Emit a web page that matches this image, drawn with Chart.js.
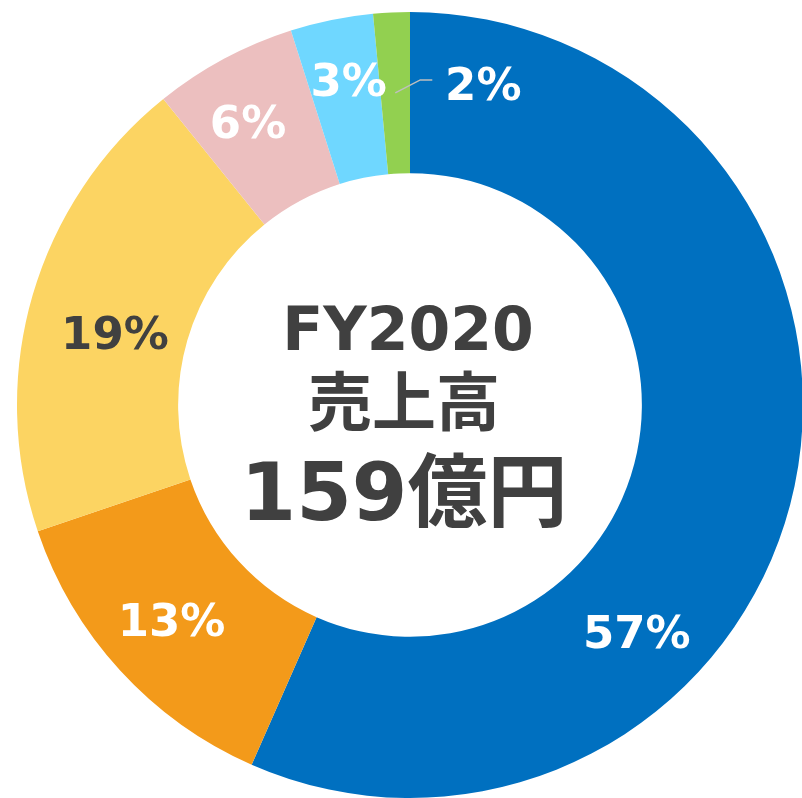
<!DOCTYPE html>
<html>
<head>
<meta charset="utf-8">
<script src="https://cdn.jsdelivr.net/npm/chart.js@4"></script>
<style>
  html, body { margin: 0; padding: 0; background: #fff; overflow: hidden; }
  #wrap { position: relative; width: 803px; height: 798px; }
</style>
</head>
<body>
<div id="wrap"><canvas id="myChart"></canvas></div>
<script>
// segment data (share of sales, %)
const segments = ['A', 'B', 'C', 'D', 'E', 'F'];
const shares = [56.6, 13.2, 19.4, 5.9, 3.4, 1.5];
const centerLines = ['FY2020', '売上高', '159億円'];

const colors = ['#0070C0', '#F39A1A', '#FCD462', '#ECBFBF', '#6FD7FF', '#92D050'];
const labelColors = ['#fff', '#fff', '#404040', '#fff', '#fff', '#fff'];
// nudges from the slice centre, like manually placed labels
const labelShift = [[-79, 163], [-8, 4], [5, 15], [-14, -8], [1, -19], [88, -9]];

const labelPlugin = {
  id: 'sliceLabels',
  afterDatasetsDraw(chart) {
    const ctx = chart.ctx;
    const meta = chart.getDatasetMeta(0);
    ctx.save();
    ctx.font = 'bold 45px "DejaVu Sans"';
    ctx.textAlign = 'center';
    ctx.textBaseline = 'alphabetic';
    meta.data.forEach((arc, i) => {
      const p = arc.getCenterPoint();
      const x = p.x + labelShift[i][0];
      const y = p.y + labelShift[i][1];
      if (i === shares.length - 1) {
        // leader line for the small slice
        ctx.strokeStyle = '#BFBFBF';
        ctx.lineWidth = 1.5;
        ctx.beginPath();
        ctx.moveTo(p.x, p.y);
        ctx.lineTo(p.x + 25, p.y - 13);
        ctx.lineTo(p.x + 37, p.y - 13);
        ctx.stroke();
      }
      ctx.fillStyle = labelColors[i];
      ctx.fillText(Math.round(shares[i]) + '%', x, y + 16);
    });

    // centre text
    const cx = (chart.chartArea.left + chart.chartArea.right) / 2;
    const cy = (chart.chartArea.top + chart.chartArea.bottom) / 2;
    ctx.fillStyle = '#404040';
    ctx.font = 'bold 60px "DejaVu Sans", "Noto Sans CJK JP"';
    ctx.fillText(centerLines[0], cx - 2, cy - 55);
    ctx.font = 'bold 64px "Noto Sans CJK JP"';
    ctx.fillText(centerLines[1], cx - 6, cy + 20);
    ctx.font = 'bold 80px "DejaVu Sans", "Noto Sans CJK JP"';
    ctx.fillText(centerLines[2], cx - 6, cy + 115);
    ctx.restore();
  }
};

function createChart() {
  const ctx = document.getElementById('myChart').getContext('2d');
  new Chart(ctx, {
    type: 'doughnut',
    data: {
      labels: segments,
      datasets: [{
        data: shares,
        backgroundColor: colors,
        borderWidth: 0
      }]
    },
    options: {
      responsive: true,
      maintainAspectRatio: false,
      animation: false,
      cutout: '59%',
      layout: { padding: { left: 17, top: 12, right: 0, bottom: 0 } },
      events: [],
      plugins: {
        legend: { display: false },
        tooltip: { enabled: false }
      }
    },
    plugins: [labelPlugin]
  });
}

createChart();
</script>
</body>
</html>
